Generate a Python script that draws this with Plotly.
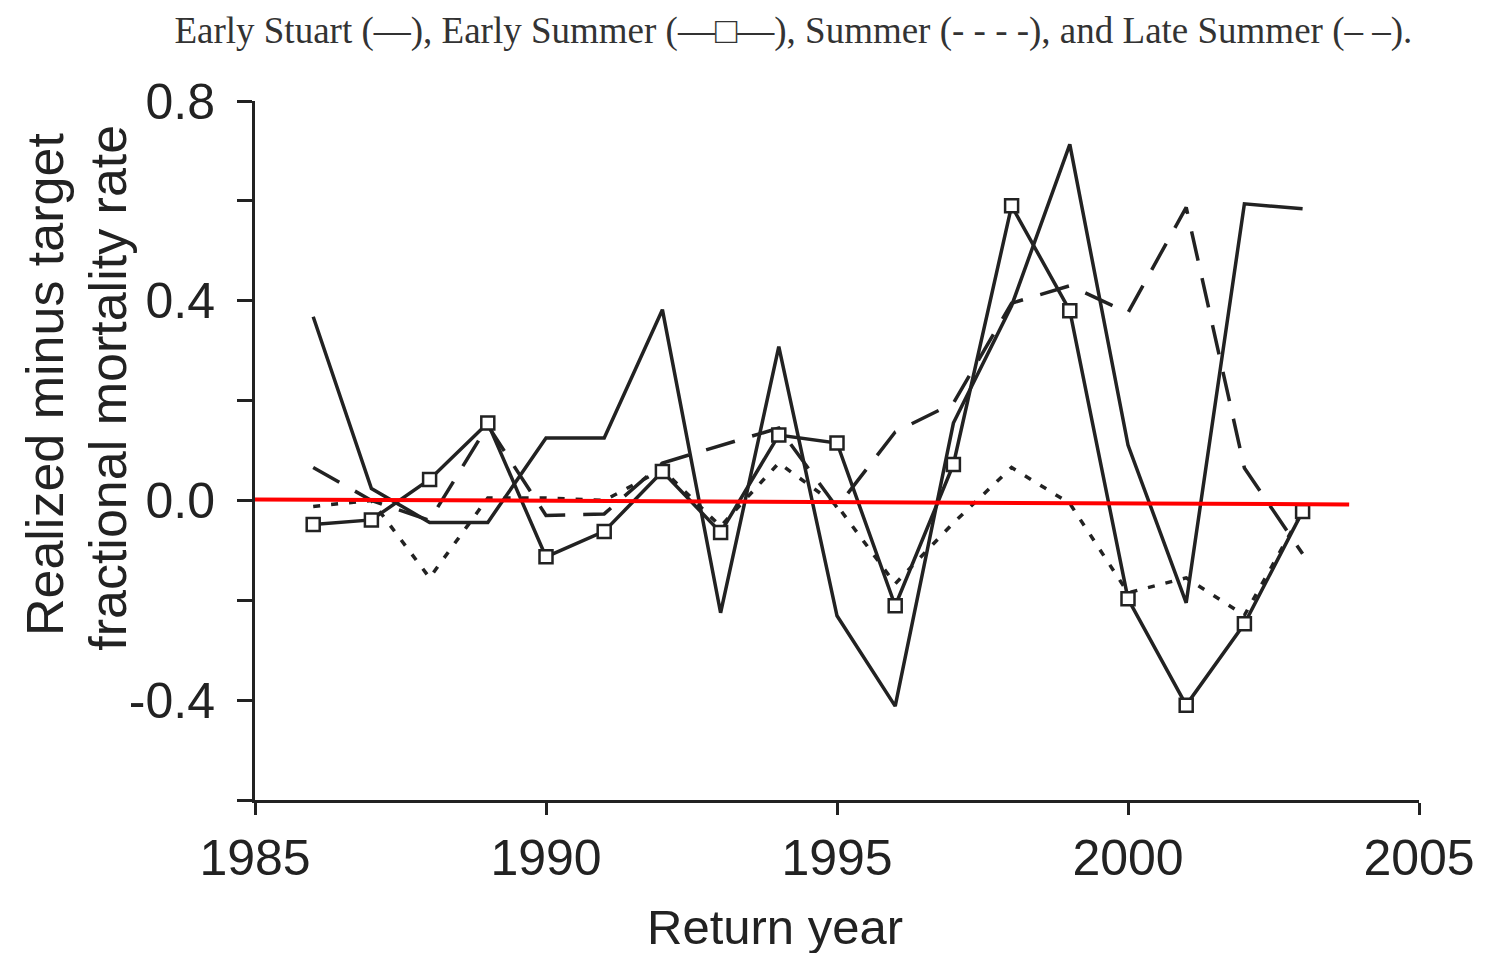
"""Realized minus target fractional mortality rate by run timing group"""
import plotly.graph_objects as go

# Return years shared by all four run timing groups
years = list(range(1986, 2004))

early_stuart = [0.368, 0.024, -0.044, -0.044, 0.125, 0.125, 0.382, -0.225, 0.308,
                -0.231, -0.412, 0.155, 0.39, 0.713, 0.111, -0.205, 0.594, 0.584]
early_summer = [-0.048, -0.039, 0.042, 0.155, -0.113, -0.062, 0.058, -0.064, 0.131,
                0.115, -0.211, 0.072, 0.59, 0.38, -0.197, -0.41, -0.247, -0.022]
summer = [-0.012, 0.0, -0.155, 0.005, 0.005, 0.0, 0.062, -0.052, 0.075,
          -0.01, -0.167, -0.045, 0.066, -0.006, -0.185, -0.155, -0.23, -0.022]
late_summer = [0.066, 0.0, -0.04, 0.15, -0.03, -0.027, 0.075, 0.11, 0.145,
               -0.014, 0.137, 0.195, 0.395, 0.43, 0.376, 0.587, 0.065, -0.107]

# Red zero reference line drawn over the data
zero_x = [1985, 2003.8]
zero_y = [0.002, -0.008]

y_ticks = [-0.6, -0.4, -0.2, 0.0, 0.2, 0.4, 0.6, 0.8]
y_tick_labels = ["", "-0.4", "", "0.0", "", "0.4", "", "0.8"]
x_ticks = [1985, 1990, 1995, 2000, 2005]

INK = "#222222"
SANS = "Liberation Sans, Arial, sans-serif"
SERIF = "Liberation Serif, Times New Roman, serif"


def add_series(fig, values, name, dash, markers=False):
    """Add one run timing group as a black line"""
    fig.add_trace(go.Scatter(
        x=years,
        y=values,
        name=name,
        mode="lines+markers" if markers else "lines",
        line=dict(color=INK, width=3.5, dash=dash),
        marker=dict(symbol="square", size=13, color="white",
                    line=dict(color=INK, width=2.5)),
        showlegend=False
    ))


fig = go.Figure()

add_series(fig, summer, "Summer", "7px,11px")
add_series(fig, late_summer, "Late Summer", "30px,18px")
add_series(fig, early_stuart, "Early Stuart", "solid")
add_series(fig, early_summer, "Early Summer", "solid", markers=True)

fig.add_trace(go.Scatter(
    x=zero_x,
    y=zero_y,
    mode="lines",
    line=dict(color="#ff0000", width=4),
    showlegend=False,
    hoverinfo="skip"
))

axis_common = dict(
    showgrid=False,
    zeroline=False,
    showline=True,
    linecolor=INK,
    linewidth=3,
    ticks="outside",
    tickcolor=INK,
    tickwidth=3,
    tickfont=dict(family=SANS, size=50, color=INK)
)

# the page adds an 8px body margin, so the figure is drawn 16px smaller
fig.update_layout(
    width=1479,
    height=945,
    margin=dict(l=247, r=62, t=93, b=153),
    paper_bgcolor="white",
    plot_bgcolor="white",
    title=dict(
        text="Early Stuart (—), Early Summer (—□—), Summer (- - - -), and Late Summer (– –).",
        font=dict(family=SERIF, size=37, color="#333333"),
        x=0.531, xanchor="center",
        y=0.9767, yanchor="middle"
    ),
    xaxis=dict(
        range=[1985, 2005],
        tickvals=x_ticks,
        ticklen=12,
        **axis_common
    ),
    yaxis=dict(
        range=[-0.6, 0.8],
        tickvals=y_ticks,
        ticktext=y_tick_labels,
        ticklen=15,
        ticklabelstandoff=12,
        **axis_common
    )
)

fig.add_annotation(
    text="Return year",
    xref="paper", yref="paper",
    x=0.447, y=-0.182,
    xanchor="center", yanchor="middle",
    showarrow=False,
    font=dict(family=SANS, size=49, color=INK)
)

# y title as two rotated lines, placed in pixels left of the plot
for line_text, px_x, px_y in [("Realized minus target", 44, 385),
                              ("fractional mortality rate", 107, 388)]:
    fig.add_annotation(
        text=line_text,
        xref="paper", yref="paper",
        x=(px_x - 8 - 247) / 1170, y=(800 - px_y) / 699,
        xanchor="center", yanchor="middle",
        textangle=-90,
        showarrow=False,
        font=dict(family=SANS, size=52, color=INK)
    )

fig.write_html("out.html")
